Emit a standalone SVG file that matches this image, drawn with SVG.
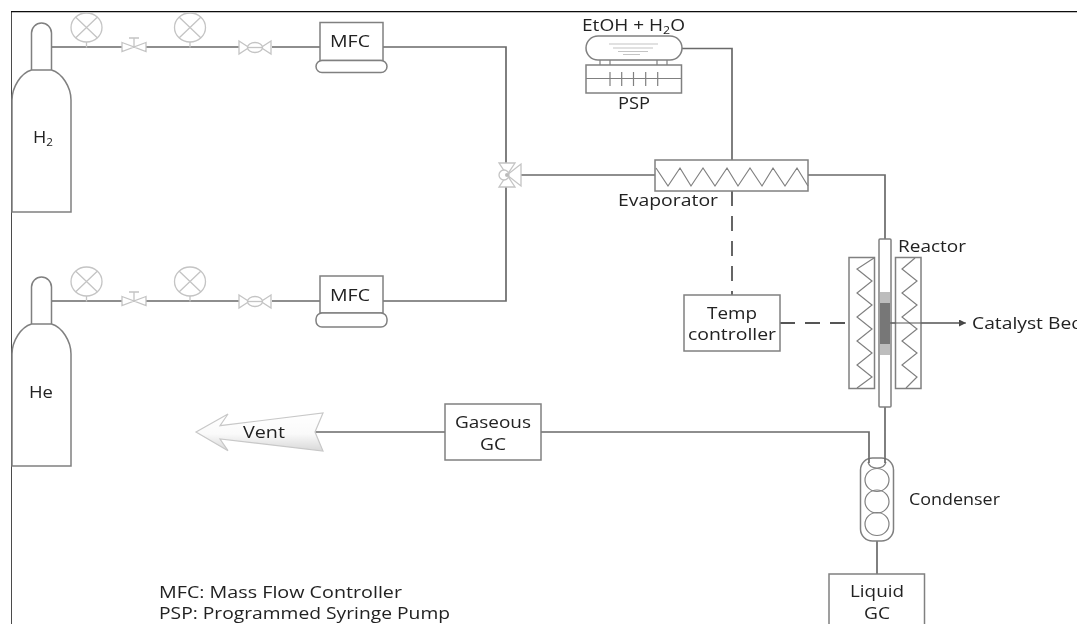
<svg xmlns="http://www.w3.org/2000/svg" width="1077" height="624" viewBox="0 0 1077 624">
<style>
.l{fill:none;stroke:#6a6a6a;stroke-width:1.7}
.b{fill:#fff;stroke:#808080;stroke-width:1.5}
.n{fill:none;stroke:#808080;stroke-width:1.2}
.v{fill:#fff;stroke:#c4c4c4;stroke-width:1.3}
.d{fill:none;stroke:#555;stroke-width:1.8;stroke-dasharray:15 10}
text{font-family:"Open Sans","Noto Sans",sans-serif;font-size:17px;fill:#222}
.m{text-anchor:middle}
</style>
<defs>
<filter id="soft" x="0" y="0" width="100%" height="100%"><feGaussianBlur stdDeviation="0.45"/></filter>
<linearGradient id="vg" x1="0" y1="0" x2="0" y2="1"><stop offset="0" stop-color="#fff"/><stop offset="0.55" stop-color="#fafafa"/><stop offset="1" stop-color="#d8d8d8"/></linearGradient>
<marker id="ah" markerWidth="8" markerHeight="8" refX="7" refY="3.500" orient="auto" markerUnits="userSpaceOnUse"><path d="M0 0L7 3.500L0 7z" fill="#444"/></marker>
<g id="gauge"><ellipse cx="0" cy="0" rx="15.500" ry="14.500" class="v"/><path d="M-11-10.500L11 10.500M-11 10.500L11-10.500" class="v"/><path d="M0 14.500V20" class="v"/></g>
<g id="needle"><path d="M-12-4.500L0 0L-12 4.500zM12-4.500L0 0L12 4.500z" class="v"/><path d="M0 0V-9M-5-9H5" class="v"/></g>
<g id="ball"><path d="M-16-6.500L-6 0L-16 6.500zM16-6.500L6 0L16 6.500z" class="v"/><ellipse rx="7.500" ry="5" class="v"/><path d="M-7 0H7" class="v"/></g>
<path id="cyl" d="M31.500 43V6A10 10 0 0 1 51.500 6V43M31.500 43H51.500C62 46 71 60 71 73V185H12V73C12 60 21 46 31.500 43Z"/>
</defs>
<rect width="1077" height="624" fill="#fff"/>
<g filter="url(#soft)">
<g id="frame"><path d="M11 624V11.500H1077" fill="none" stroke="#111" stroke-width="1.500"/></g>
<g id="connectors">
<path class="l" d="M52 47H122M146 47H239M272 47H320M383 47H506V301H383"/>
<path class="l" d="M52 301H122M146 301H239M272 301H320"/>
<path class="l" d="M520 175H655M682 48.500H732V160M808 175H885V239M885 407V463M869 463V432H541M445 432H315M877 541V574"/>
<path class="d" d="M732 191V295"/>
<path class="d" d="M780 323H846"/>
<path d="M890 323H966" fill="none" stroke="#555" stroke-width="1.200" marker-end="url(#ah)"/>
</g>
<g id="h2-cylinder"><use href="#cyl" y="27" class="b"/><text x="43" y="143" class="m" textLength="20" lengthAdjust="spacingAndGlyphs">H<tspan font-size="11" dy="3">2</tspan></text></g>
<g id="he-cylinder"><use href="#cyl" y="281" class="b"/><text x="41" y="398" class="m" textLength="24" lengthAdjust="spacingAndGlyphs">He</text></g>
<g id="h2-gauge-1"><use href="#gauge" x="86.500" y="27.500"/></g>
<g id="h2-valve-1"><use href="#needle" x="134" y="47"/></g>
<g id="h2-gauge-2"><use href="#gauge" x="190" y="27.500"/></g>
<g id="h2-valve-2"><use href="#ball" x="255" y="47.500"/></g>
<g id="he-gauge-1"><use href="#gauge" x="86.500" y="281.500"/></g>
<g id="he-valve-1"><use href="#needle" x="134" y="301"/></g>
<g id="he-gauge-2"><use href="#gauge" x="190" y="281.500"/></g>
<g id="he-valve-2"><use href="#ball" x="255" y="301.500"/></g>
<g id="mfc-h2"><rect x="320" y="22.500" width="63" height="38" class="b"/><rect x="316" y="60.500" width="71" height="12" rx="6" class="b"/><text x="350" y="47" class="m" textLength="40" lengthAdjust="spacingAndGlyphs">MFC</text></g>
<g id="mfc-he"><rect x="320" y="276" width="63" height="37" class="b"/><rect x="316" y="313" width="71" height="14" rx="6" class="b"/><text x="350" y="301" class="m" textLength="40" lengthAdjust="spacingAndGlyphs">MFC</text></g>
<g id="mixing-valve"><path class="v" d="M499 163H515L507 175zM499 187H515L507 175zM521 164V186L507 175z"/><ellipse cx="504" cy="175" rx="5" ry="5" class="v"/><circle cx="507" cy="175" r="2" fill="#bbb"/></g>
<g id="psp">
<rect x="586" y="36" width="96" height="24" rx="12" class="b"/>
<path d="M609 44H658M613 48H653M618 51.500H648M623 54.500H640" fill="none" stroke="#c4c4c4" stroke-width="1.200"/>
<path class="n" d="M600 60V65M610 60V65M657 60V65M667 60V65"/>
<rect x="586" y="65" width="95.500" height="28" class="b"/>
<path class="n" d="M586 78.500H681M610 72V86M621.700 72V86M633.500 72V86M645.700 72V86M657.700 72V86"/>
<text x="633.500" y="31" class="m" textLength="103" lengthAdjust="spacingAndGlyphs">EtOH + H<tspan font-size="11" dy="3">2</tspan><tspan dy="-3">O</tspan></text>
<text x="634" y="109" class="m" textLength="32" lengthAdjust="spacingAndGlyphs">PSP</text>
</g>
<g id="evaporator">
<rect x="655" y="160" width="153" height="31" class="b"/>
<path class="n" d="M656 168L668 186L680 168L691 186L703 168L715 186L727 168L738 186L750 168L762 186L773 168L785 186L797 168L808 186"/>
<text x="668" y="206" class="m" textLength="100" lengthAdjust="spacingAndGlyphs">Evaporator</text>
</g>
<g id="temp-controller"><rect x="684" y="295" width="96" height="56" class="b"/><text x="732" y="319" class="m" textLength="50" lengthAdjust="spacingAndGlyphs">Temp</text><text x="732" y="340" class="m" textLength="88" lengthAdjust="spacingAndGlyphs">controller</text></g>
<g id="reactor">
<rect x="879" y="239" width="12" height="168" rx="1" class="b"/>
<rect x="880" y="292" width="10" height="63" fill="#bdbdbd"/>
<rect x="880" y="303" width="10" height="41" fill="#777"/>
<rect x="849" y="257.500" width="25.500" height="131" class="b"/>
<rect x="895.500" y="257.500" width="25.500" height="131" class="b"/>
<path class="n" d="M874 258L857 269L872 281L857 293L872 305L857 317L872 329L857 341L872 353L857 365L872 377L857 388"/>
<path class="n" d="M915 258L902 269L917 281L902 293L917 305L902 317L917 329L902 341L917 353L902 365L917 377L906 388"/>
<path d="M890 323H962" fill="none" stroke="#555" stroke-width="1.200"/>
<text x="898" y="252" textLength="68" lengthAdjust="spacingAndGlyphs">Reactor</text>
<text x="972" y="329" textLength="111" lengthAdjust="spacingAndGlyphs">Catalyst Bed</text>
</g>
<g id="condenser">
<rect x="860.500" y="458" width="33" height="83" rx="12" class="b"/>
<path class="n" d="M868 462C870 470 884 470 886 462"/>
<ellipse cx="877" cy="480" rx="12" ry="11.500" class="n"/>
<ellipse cx="877" cy="501.500" rx="12" ry="11.500" class="n"/>
<ellipse cx="877" cy="524" rx="12" ry="11.500" class="n"/>
<path class="l" d="M885 458V463M869 458V463"/>
<text x="909" y="505" textLength="91" lengthAdjust="spacingAndGlyphs">Condenser</text>
</g>
<g id="liquid-gc"><rect x="829" y="574" width="95.500" height="60" class="b"/><text x="877" y="597" class="m" textLength="54" lengthAdjust="spacingAndGlyphs">Liquid</text><text x="877" y="619" class="m" textLength="26" lengthAdjust="spacingAndGlyphs">GC</text></g>
<g id="gaseous-gc"><rect x="445" y="404" width="96" height="56" class="b"/><text x="493" y="428" class="m" textLength="76" lengthAdjust="spacingAndGlyphs">Gaseous</text><text x="493" y="450" class="m" textLength="26" lengthAdjust="spacingAndGlyphs">GC</text></g>
<g id="vent"><path d="M196 432L228 414L220 425.700L323 413L315 432L323 451L220 439L228 450.700Z" fill="url(#vg)" stroke="#c8c8c8" stroke-width="1.200"/><text x="264" y="438" class="m" textLength="42" lengthAdjust="spacingAndGlyphs">Vent</text></g>
<g id="legend">
<text x="159" y="597.500" textLength="243" lengthAdjust="spacingAndGlyphs">MFC: Mass Flow Controller</text>
<text x="159" y="618.500" textLength="291" lengthAdjust="spacingAndGlyphs">PSP: Programmed Syringe Pump</text>
</g>
</g>
</svg>
